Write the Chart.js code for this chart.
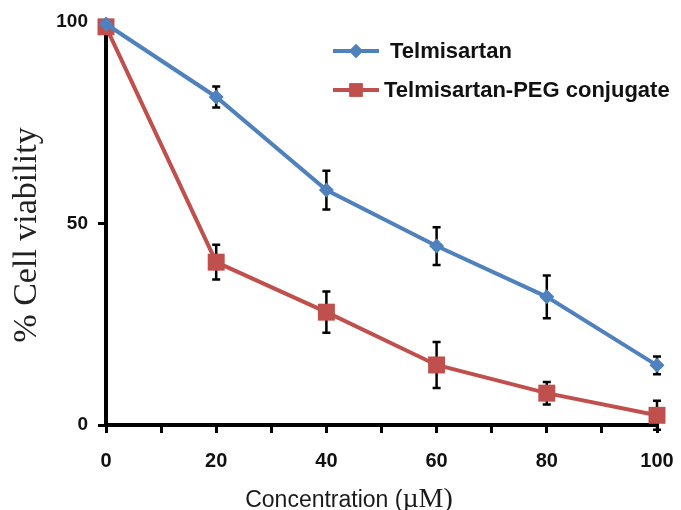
<!DOCTYPE html>
<html>
<head>
<meta charset="utf-8">
<script src="https://cdn.jsdelivr.net/npm/chart.js@4"></script>
<style>
  html, body { margin: 0; padding: 0; background: #fff; }
  #wrap { width: 681px; height: 510px; }
</style>
</head>
<body>
<div id="wrap"><canvas id="viabilityChart" width="681" height="510"></canvas></div>
<script>
// Concentration (uM) and % viability
const concentrations = [0, 20, 40, 60, 80, 100];
const telmisartan = [99.5, 81.4, 58.3, 44.4, 31.8, 14.8];
const telmisartanErr = [0, 2.6, 4.8, 4.7, 5.3, 2.2];
const pegConjugate = [98.8, 40.4, 28.0, 14.9, 7.9, 2.4];
const pegErr = [0, 4.3, 5.1, 5.7, 2.8, 3.6];
const seriesNames = ['Telmisartan', 'Telmisartan-PEG conjugate'];

const blue = '#4F81BD';
const red = '#C0504D';
const axisColor = '#000000';

const toPoints = ys => concentrations.map((x, i) => ({ x: x, y: ys[i] }));

// Error bars, drawn under the lines and markers
const errorBars = {
    id: 'errorBars',
    beforeDatasetsDraw(chart) {
        const { ctx, scales: { x, y } } = chart;
        const errs = [telmisartanErr, pegErr];
        ctx.save();
        ctx.strokeStyle = '#000';
        ctx.lineWidth = 2.5;
        chart.data.datasets.forEach((ds, d) => {
            ds.data.forEach((pt, i) => {
                const e = errs[d][i];
                if (!e) return;
                const px = x.getPixelForValue(pt.x);
                const top = y.getPixelForValue(pt.y + e);
                const bot = y.getPixelForValue(pt.y - e);
                ctx.beginPath();
                ctx.moveTo(px, top); ctx.lineTo(px, bot);
                ctx.moveTo(px - 4, top); ctx.lineTo(px + 4, top);
                ctx.moveTo(px - 4, bot); ctx.lineTo(px + 4, bot);
                ctx.stroke();
            });
        });
        ctx.restore();
    }
};

// Axis titles (x title mixes a sans and a serif font, like the original)
const axisTitles = {
    id: 'axisTitles',
    afterDraw(chart) {
        const { ctx } = chart;
        ctx.save();
        ctx.fillStyle = '#1a1a1a';
        ctx.textBaseline = 'alphabetic';
        const part1 = 'Concentration (';
        const part2 = '\u00B5M)';
        const f1 = '23px "Liberation Sans", Arial, sans-serif';
        const f2 = '28px "Liberation Serif", "Times New Roman", serif';
        ctx.font = f1;
        const w1 = ctx.measureText(part1).width;
        ctx.font = f2;
        const w2 = ctx.measureText(part2).width;
        const startX = 349 - (w1 + w2) / 2;
        ctx.font = f1;
        ctx.fillText(part1, startX, 507);
        ctx.font = f2;
        ctx.fillText(part2, startX + w1, 507);

        ctx.translate(27, 235);
        ctx.rotate(-Math.PI / 2);
        ctx.font = '34px "Liberation Serif", "Times New Roman", serif';
        ctx.textAlign = 'center';
        ctx.textBaseline = 'middle';
        ctx.fillStyle = '#222';
        ctx.fillText('% Cell viability', 0, 0);
        ctx.restore();
    }
};

// Legend placed inside the plot, top right
const insideLegend = {
    id: 'insideLegend',
    afterDraw(chart) {
        const { ctx } = chart;
        const rows = [
            { y: 51, color: blue, style: 'rectRot', r: 7, textX: 390 },
            { y: 90, color: red, style: 'rect', r: 9.5, textX: 384 }
        ];
        ctx.save();
        rows.forEach((row, i) => {
            ctx.strokeStyle = row.color;
            ctx.lineWidth = 4;
            ctx.beginPath();
            ctx.moveTo(333, row.y);
            ctx.lineTo(379, row.y);
            ctx.stroke();
            ctx.fillStyle = row.color;
            Chart.helpers.drawPoint(ctx, { pointStyle: row.style, radius: row.r, borderWidth: 0, rotation: 0 }, 356, row.y);
            ctx.fill();
            ctx.fillStyle = '#111';
            ctx.font = 'bold 22px "Liberation Sans", Arial, sans-serif';
            ctx.textBaseline = 'middle';
            ctx.fillText(seriesNames[i], row.textX, row.y + 1);
        });
        ctx.restore();
    }
};

const ctx = document.getElementById('viabilityChart').getContext('2d');

new Chart(ctx, {
    type: 'line',
    data: {
        datasets: [{
            label: seriesNames[0],
            data: toPoints(telmisartan),
            borderColor: blue,
            backgroundColor: blue,
            borderWidth: 4,
            pointStyle: 'rectRot',
            pointRadius: 7.5,
            pointBorderWidth: 0,
            tension: 0,
            clip: false
        }, {
            label: seriesNames[1],
            data: toPoints(pegConjugate),
            borderColor: red,
            backgroundColor: red,
            borderWidth: 4,
            pointStyle: 'rect',
            pointRadius: 12,
            pointBorderWidth: 0,
            tension: 0,
            clip: false
        }]
    },
    options: {
        responsive: false,
        animation: false,
        layout: {
            padding: { top: 22, right: 24, left: 0, bottom: 0 }
        },
        plugins: {
            legend: { display: false },
            tooltip: { enabled: false }
        },
        scales: {
            x: {
                type: 'linear',
                min: 0,
                max: 100,
                afterFit: scale => {
                    scale.height = 85;
                    scale.paddingLeft = 0;
                    scale.paddingRight = 0;
                },
                border: { display: true, color: axisColor, width: 4 },
                grid: {
                    drawOnChartArea: false,
                    drawTicks: true,
                    tickLength: 8,
                    color: axisColor,
                    lineWidth: 3
                },
                ticks: {
                    stepSize: 10,
                    autoSkip: false,
                    maxRotation: 0,
                    padding: 16,
                    color: '#111',
                    font: { family: '"Liberation Sans", Arial, sans-serif', size: 20, weight: 'bold' },
                    callback: v => (v % 20 === 0 ? v : '')
                }
            },
            y: {
                min: 0,
                max: 100,
                afterFit: scale => {
                    scale.width = 106;
                    scale.paddingTop = 0;
                    scale.paddingBottom = 0;
                },
                border: { display: true, color: axisColor, width: 4 },
                grid: {
                    drawOnChartArea: false,
                    drawTicks: true,
                    tickLength: 8,
                    color: axisColor,
                    lineWidth: 3
                },
                ticks: {
                    stepSize: 50,
                    padding: 10,
                    color: '#111',
                    font: { family: '"Liberation Sans", Arial, sans-serif', size: 19, weight: 'bold' }
                }
            }
        }
    },
    plugins: [errorBars, axisTitles, insideLegend]
});
</script>
</body>
</html>
